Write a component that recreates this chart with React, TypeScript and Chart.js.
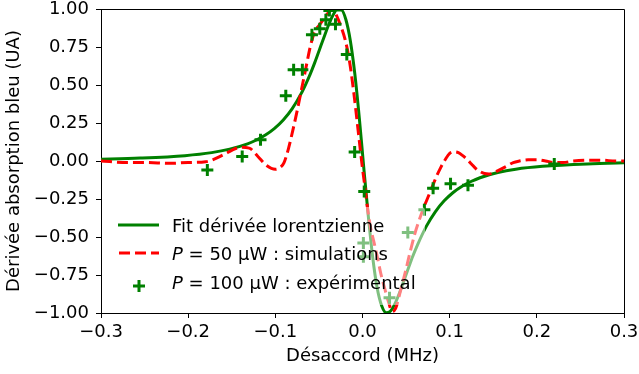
import React, { useEffect, useRef } from 'react';
import { Chart, registerables } from 'chart.js';

Chart.register(...registerables);

// Fit: dérivée lorentzienne
const fitX = [-0.3063, -0.2550, -0.2037, -0.1730, -0.1524, -0.1319, -0.1217, -0.1114, -0.1012, -0.0909, -0.0806, -0.0704, -0.0653, -0.0601, -0.0550, -0.0499, -0.0447, -0.0396, -0.0345, -0.0294, -0.0242, -0.0191, -0.0140, -0.0088, -0.0037, 0.0014, 0.0066, 0.0117, 0.0168, 0.0220, 0.0271, 0.0322, 0.0373, 0.0425, 0.0476, 0.0527, 0.0578, 0.0630, 0.0732, 0.0835, 0.0937, 0.1040, 0.1143, 0.1245, 0.1348, 0.1553, 0.1758, 0.2066, 0.2578, 0.3091];
const fitY = [0.011, 0.019, 0.035, 0.055, 0.078, 0.113, 0.138, 0.171, 0.213, 0.270, 0.345, 0.443, 0.503, 0.570, 0.644, 0.724, 0.806, 0.885, 0.952, 0.994, 0.993, 0.931, 0.793, 0.573, 0.286, -0.040, -0.360, -0.633, -0.834, -0.953, -0.998, -0.987, -0.938, -0.867, -0.786, -0.704, -0.625, -0.553, -0.430, -0.334, -0.262, -0.207, -0.166, -0.135, -0.110, -0.076, -0.054, -0.035, -0.019, -0.011];

// Simulations P = 50 µW
const simX = [-0.3, -0.27, -0.25, -0.22, -0.2, -0.18, -0.16, -0.15, -0.14, -0.13, -0.12, -0.11, -0.1, -0.095, -0.09, -0.085, -0.08, -0.075, -0.07, -0.065, -0.06, -0.055, -0.05, -0.045, -0.04, -0.034, -0.03, -0.025, -0.02, -0.015, -0.01, -0.005, 0, 0.003, 0.006, 0.009, 0.013, 0.017, 0.021, 0.026, 0.03, 0.034, 0.038, 0.042, 0.046, 0.05, 0.055, 0.06, 0.065, 0.07, 0.075, 0.08, 0.085, 0.09, 0.095, 0.1, 0.105, 0.11, 0.115, 0.12, 0.125, 0.13, 0.135, 0.14, 0.145, 0.15, 0.155, 0.16, 0.165, 0.173, 0.18, 0.19, 0.2, 0.21, 0.22, 0.23, 0.242, 0.26, 0.275, 0.29, 0.3];
const simY = [0.0, -0.01, -0.01, -0.015, -0.01, -0.005, 0.04, 0.07, 0.09, 0.085, 0.03, -0.03, -0.055, -0.045, -0.01, 0.08, 0.2, 0.33, 0.47, 0.61, 0.75, 0.85, 0.89, 0.93, 0.97, 1.0, 0.96, 0.89, 0.8, 0.66, 0.45, 0.2, -0.05, -0.18, -0.32, -0.43, -0.53, -0.63, -0.74, -0.85, -0.93, -0.99, -0.97, -0.89, -0.8, -0.71, -0.59, -0.48, -0.39, -0.31, -0.24, -0.17, -0.1, -0.04, 0.01, 0.05, 0.06, 0.055, 0.035, 0.01, -0.02, -0.05, -0.07, -0.082, -0.085, -0.08, -0.065, -0.05, -0.035, -0.01, 0.0, 0.008, 0.008, 0.0, -0.01, -0.01, 0.0, 0.005, 0.005, 0.0, 0.0];

// Expérimental P = 100 µW
const expX = [-0.178, -0.138, -0.117, -0.088, -0.079, -0.069, -0.058, -0.049, -0.042, -0.038, -0.031, -0.018, -0.009, 0.002, 0.001, 0.001, 0.031, 0.052, 0.071, 0.081, 0.101, 0.121, 0.220];
const expY = [-0.06, 0.03, 0.14, 0.43, 0.60, 0.60, 0.83, 0.87, 0.93, 0.99, 0.90, 0.70, 0.06, -0.20, -0.54, -0.63, -0.90, -0.47, -0.32, -0.18, -0.15, -0.16, -0.02];

const legendLabels = ['Fit dérivée lorentzienne', ' = 50 µW : simulations', ' = 100 µW : expérimental'];
const xTitle = 'Désaccord (MHz)';
const yTitle = 'Dérivée absorption bleu (UA)';

const FONT = 'DejaVu Sans';
const GREEN = '#008000';
const RED = '#ff0000';

const fmt = (v: number, d: number) => {
  if (Math.abs(v) < 1e-9) return (0).toFixed(d);
  const s = Math.abs(v).toFixed(d);
  return v < 0 ? '\u2212' + s : s;
};

const pts = (xs: number[], ys: number[]) => xs.map((x, i) => ({ x, y: ys[i] }));

const decorPlugin = {
  id: 'decor',
  afterDraw(chart: any) {
    const { ctx, chartArea: a } = chart;
    ctx.save();
    // top & right spines
    ctx.strokeStyle = '#000';
    ctx.lineWidth = 1;
    ctx.beginPath();
    ctx.moveTo(Math.round(a.left) + 0.5, Math.round(a.top) + 0.5);
    ctx.lineTo(Math.round(a.right) + 0.5, Math.round(a.top) + 0.5);
    ctx.lineTo(Math.round(a.right) + 0.5, Math.round(a.bottom) + 0.5);
    ctx.stroke();

    // legend box
    const bx = 110, by = 207, bw = 315, bh = 98, r = 4;
    ctx.fillStyle = 'rgba(255,255,255,0.5)';
    ctx.beginPath();
    ctx.moveTo(bx + r, by);
    ctx.lineTo(bx + bw - r, by);
    ctx.quadraticCurveTo(bx + bw, by, bx + bw, by + r);
    ctx.lineTo(bx + bw, by + bh - r);
    ctx.quadraticCurveTo(bx + bw, by + bh, bx + bw - r, by + bh);
    ctx.lineTo(bx + r, by + bh);
    ctx.quadraticCurveTo(bx, by + bh, bx, by + bh - r);
    ctx.lineTo(bx, by + r);
    ctx.quadraticCurveTo(bx, by, bx + r, by);
    ctx.closePath();
    ctx.fill();

    const tx = 172;
    // row 1: green line
    ctx.strokeStyle = GREEN;
    ctx.lineWidth = 3;
    ctx.setLineDash([]);
    ctx.beginPath();
    ctx.moveTo(118, 225);
    ctx.lineTo(159, 225);
    ctx.stroke();
    ctx.fillStyle = '#000';
    ctx.textBaseline = 'alphabetic';
    ctx.textAlign = 'left';
    ctx.font = `18px "${FONT}"`;
    ctx.fillText(legendLabels[0], tx, 232);

    // row 2: red dashed
    ctx.strokeStyle = RED;
    ctx.setLineDash([11, 5]);
    ctx.beginPath();
    ctx.moveTo(119, 253);
    ctx.lineTo(159, 253);
    ctx.stroke();
    ctx.setLineDash([]);
    ctx.font = `italic 18px "${FONT}"`;
    ctx.fillText('P', tx, 260);
    let w = ctx.measureText('P').width;
    ctx.font = `18px "${FONT}"`;
    ctx.fillText(legendLabels[1], tx + w, 260);

    // row 3: green plus
    ctx.strokeStyle = GREEN;
    ctx.lineWidth = 3;
    ctx.beginPath();
    ctx.moveTo(133, 286);
    ctx.lineTo(145, 286);
    ctx.moveTo(139, 280);
    ctx.lineTo(139, 292);
    ctx.stroke();
    ctx.font = `italic 18px "${FONT}"`;
    ctx.fillText('P', tx, 289);
    w = ctx.measureText('P').width;
    ctx.font = `18px "${FONT}"`;
    ctx.fillText(legendLabels[2], tx + w, 289);
    ctx.restore();
  },
};

const noPad = (s: any) => {
  s.paddingTop = 0;
  s.paddingBottom = 0;
  s.paddingLeft = 0;
  s.paddingRight = 0;
};

export default function App() {
  const ref = useRef<HTMLCanvasElement | null>(null);
  useEffect(() => {
    if (!ref.current) return;
    const tickFont = { family: FONT, size: 18, lineHeight: 1.2 };
    const titleFont = { family: FONT, size: 18, lineHeight: 1.2 };
    const chart = new Chart(ref.current, {
      type: 'line',
      data: {
        datasets: [
          {
            label: 'fit',
            data: pts(fitX, fitY),
            borderColor: GREEN,
            borderWidth: 3,
            pointRadius: 0,
            cubicInterpolationMode: 'monotone',
            fill: false,
            order: 3,
          },
          {
            label: 'sim',
            data: pts(simX, simY),
            borderColor: RED,
            borderWidth: 3,
            borderDash: [11, 5],
            pointRadius: 0,
            cubicInterpolationMode: 'monotone',
            fill: false,
            order: 2,
          },
          {
            label: 'exp',
            data: pts(expX, expY),
            showLine: false,
            pointStyle: 'cross',
            pointRadius: 6,
            pointBorderWidth: 3,
            pointBorderColor: GREEN,
            pointBackgroundColor: GREEN,
            borderColor: GREEN,
            order: 1,
          },
        ],
      } as any,
      options: {
        animation: false,
        responsive: false,
        maintainAspectRatio: false,
        events: [],
        layout: { padding: { left: 0, right: 15, top: 8, bottom: 0 } },
        plugins: { legend: { display: false }, tooltip: { enabled: false } },
        scales: {
          x: {
            type: 'linear',
            min: -0.3,
            max: 0.3,
            ticks: {
              stepSize: 0.1,
              color: '#000',
              font: tickFont,
              padding: 4,
              maxRotation: 0,
              autoSkip: false,
              callback: (v: any) => fmt(Number(v), 1),
            },
            grid: { drawOnChartArea: false, drawTicks: true, tickLength: 5, color: '#000', lineWidth: 1 },
            border: { display: true, color: '#000', width: 1 },
            title: { display: true, text: xTitle, color: '#000', font: titleFont, padding: { top: 0, bottom: 7 } },
            afterFit: (s: any) => { s.height = 61; noPad(s); },
          },
          y: {
            type: 'linear',
            min: -1,
            max: 1,
            ticks: {
              stepSize: 0.25,
              color: '#000',
              font: tickFont,
              padding: 7,
              autoSkip: false,
              callback: (v: any) => fmt(Number(v), 2),
            },
            grid: { drawOnChartArea: false, drawTicks: true, tickLength: 5, color: '#000', lineWidth: 1 },
            border: { display: true, color: '#000', width: 1 },
            title: { display: true, text: yTitle, color: '#000', font: titleFont, padding: { top: 4, bottom: 0 } },
            afterFit: (s: any) => { s.width = 101; noPad(s); },
          },
        },
      } as any,
      plugins: [decorPlugin],
    });
    return () => chart.destroy();
  }, []);
  return (
    <div style={{ position: 'fixed', left: 0, top: 0, width: 639, height: 374, background: '#fff' }}>
      <canvas ref={ref} width={639} height={374} style={{ width: 639, height: 374, display: 'block' }} />
    </div>
  );
}
